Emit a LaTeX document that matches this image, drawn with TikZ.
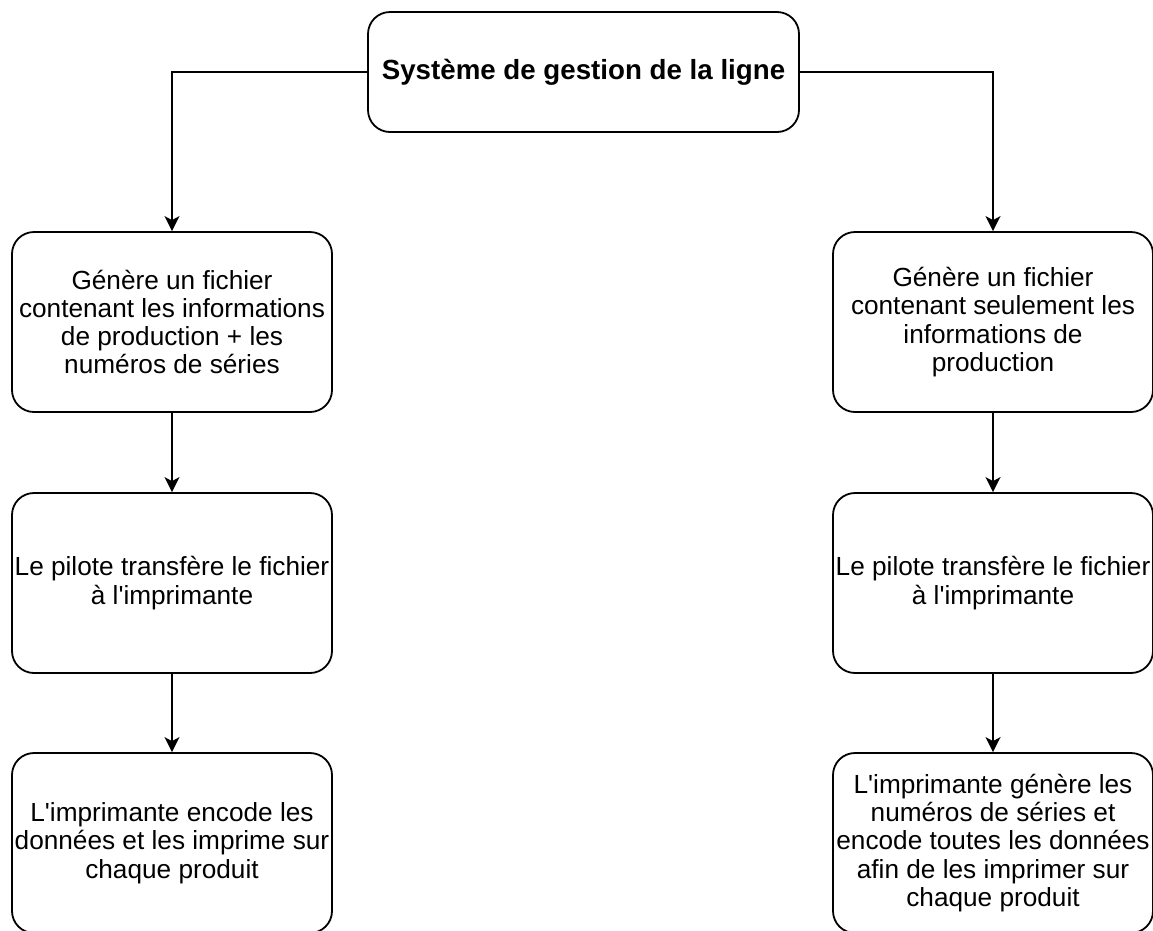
\documentclass[tikz,border=0pt]{standalone}
\usepackage{fontspec}
\setmainfont{Liberation Sans}
\usetikzlibrary{arrows.meta}

\newcommand{\apos}{\textquotesingle}

\tikzset{
  box/.style={draw=black, line width=1.8pt, rounded corners=22pt, fill=white,
    minimum width=320pt, minimum height=180pt, inner sep=0pt, align=center,
    font=\fontsize{26.2}{28.3}\selectfont},
  titlebox/.style={box, minimum width=431pt, minimum height=120pt,
    font=\fontsize{27.7}{32}\selectfont\bfseries},
  flow/.style={draw=black, line width=1.8pt,
    -{Stealth[length=15pt, width=15pt, inset=4pt]}}
}

\begin{document}
\begin{tikzpicture}[x=1pt, y=-1pt]
  % page frame, picture cut at the lower and right edges
  \useasboundingbox (0,0) rectangle (1153,930);
  \clip (0,0) rectangle (1153,930);

  % head of the process
  \node[titlebox] (sys) at (583.5,72) {Système de gestion de la ligne};

  % left branch
  \node[box] (l1) at (172,322) {Génère un fichier\\contenant les informations\\de production + les\\numéros de séries};
  \node[box] (l2) at (172,583) {Le pilote transfère le fichier\\à l\apos imprimante};
  \node[box] (l3) at (172,843) {L\apos imprimante encode les\\données et les imprime sur\\chaque produit};

  % right branch
  \node[box] (r1) at (993,322) {Génère un fichier\\contenant seulement les\\informations de\\production};
  \node[box] (r2) at (993,583) {Le pilote transfère le fichier\\à l\apos imprimante};
  \node[box] (r3) at (993,843) {L\apos imprimante génère les\\numéros de séries et\\encode toutes les données\\afin de les imprimer sur\\chaque produit};

  % connectors
  \draw[flow] (sys.west) -| (l1.north);
  \draw[flow] (sys.east) -| (r1.north);
  \draw[flow] (l1.south) -- (l2.north);
  \draw[flow] (l2.south) -- (l3.north);
  \draw[flow] (r1.south) -- (r2.north);
  \draw[flow] (r2.south) -- (r3.north);
\end{tikzpicture}
\end{document}
